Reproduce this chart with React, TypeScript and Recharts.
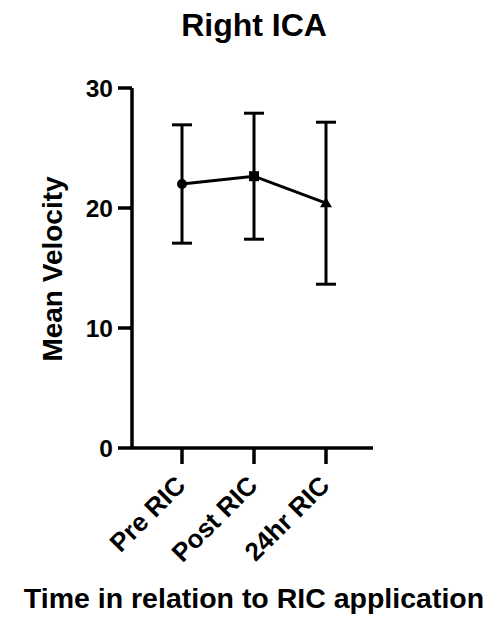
import React from 'react';
import { LineChart, Line, XAxis, YAxis, ErrorBar } from 'recharts';

const categories = ['Pre RIC', 'Post RIC', '24hr RIC'];
const means = [22.0, 22.65, 20.4];
const sdErrors = [4.93, 5.25, 6.75];
const yTicks = [0, 10, 20, 30];

const data = categories.map((c, i) => ({ name: c, mean: means[i], err: sdErrors[i] }));

const FONT = '"Liberation Sans", Arial, sans-serif';

const XTick = (props: any) => {
  const { x, y, payload } = props;
  const ax = x + 5;
  const ay = y + 21;
  return (
    <text x={ax} y={ay} transform={`rotate(-45 ${ax} ${ay})`} textAnchor="end" fontFamily={FONT} fontWeight="bold" fontSize={26} fill="#000">
      {payload.value}
    </text>
  );
};

const Dot = (props: any) => {
  const { cx, cy, index } = props;
  if (cx == null || cy == null) return null;
  if (index === 0) return <circle key={`d${index}`} cx={cx} cy={cy} r={5} fill="#000" />;
  if (index === 1) return <rect key={`d${index}`} x={cx - 5} y={cy - 5} width={10} height={10} fill="#000" />;
  return <path key={`d${index}`} d={`M${cx},${cy - 6} L${cx + 6},${cy + 4} L${cx - 6},${cy + 4} Z`} fill="#000" />;
};

export default function App() {
  return (
    <div style={{ position: 'absolute', left: 0, top: 0, width: 493, height: 628, background: '#fff' }}>
      <div style={{ position: 'absolute', left: 0, top: 7, width: 508, textAlign: 'center', fontFamily: FONT, fontWeight: 'bold', fontSize: 32, color: '#000', lineHeight: '37px' }}>
        Right ICA
      </div>
      <LineChart width={493} height={628} data={data} margin={{ top: 88, right: 120, bottom: 80, left: 32 }}>
        <XAxis
          dataKey="name"
          padding={{ left: 50, right: 47 }}
          height={100}
          axisLine={{ stroke: '#000', strokeWidth: 3.5 }}
          tickLine={{ stroke: '#000', strokeWidth: 3.5 }}
          tickSize={16}
          tick={<XTick />}
          interval={0}
          label={(p: any) => (
            <text x={254} y={608} textAnchor="middle" fontFamily={FONT} fontWeight="bold" fontSize={28.5} fill="#000">
              Time in relation to RIC application
            </text>
          )}
        />
        <YAxis
          domain={[0, 30]}
          ticks={yTicks}
          width={100}
          axisLine={{ stroke: '#000', strokeWidth: 3.5 }}
          tickLine={{ stroke: '#000', strokeWidth: 3.5 }}
          tickSize={14}
          tickMargin={5}
          tick={{ fontFamily: FONT, fontWeight: 'bold', fontSize: 24.5, fill: '#000' }}
          label={(p: any) => (
            <text x={62} y={269} transform="rotate(-90 62 269)" textAnchor="middle" fontFamily={FONT} fontWeight="bold" fontSize={28} fill="#000">
              Mean Velocity
            </text>
          )}
        />
        <Line
          dataKey="mean"
          stroke="#000"
          strokeWidth={3}
          dot={<Dot />}
          activeDot={false}
          isAnimationActive={false}
        >
          <ErrorBar dataKey="err" width={10} stroke="#000" strokeWidth={3} direction="y" isAnimationActive={false} />
        </Line>
      </LineChart>
    </div>
  );
}
